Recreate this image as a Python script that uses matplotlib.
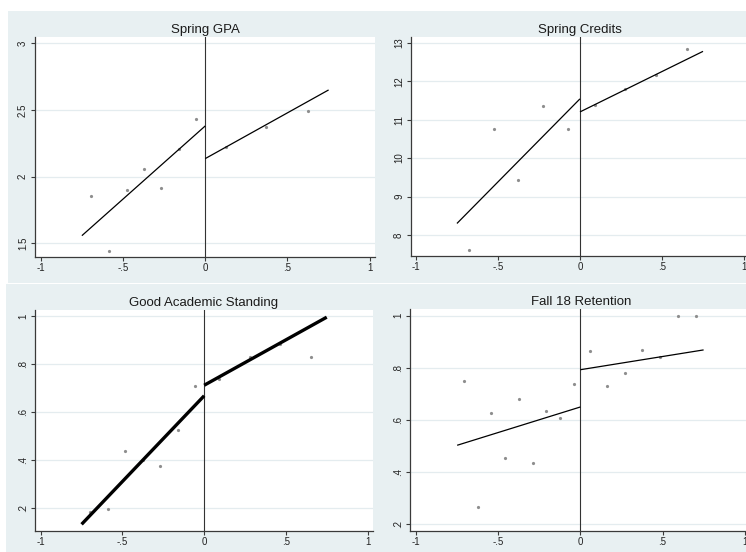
import matplotlib
matplotlib.use("Agg")
import matplotlib.pyplot as plt
from matplotlib.patches import Rectangle

plt.rcParams['font.family'] = ['Liberation Sans', 'DejaVu Sans']

# ---------------- data ----------------
titles = ["Spring GPA", "Spring Credits", "Good Academic Standing", "Fall 18 Retention"]

gpa_x = [-0.693, -0.584, -0.478, -0.373, -0.267, -0.160, -0.055, 0.128, 0.369, 0.622]
gpa_y = [1.857, 1.445, 1.897, 2.057, 1.915, 2.205, 2.435, 2.225, 2.375, 2.490]
gpa_fit_left = [1.557, 2.380]
gpa_fit_right = [2.135, 2.650]

cred_x = [-0.674, -0.523, -0.375, -0.226, -0.075, 0.094, 0.277, 0.466, 0.650]
cred_y = [7.61, 10.765, 9.42, 11.345, 10.756, 11.37, 11.80, 12.17, 12.83]
cred_fit_left = [8.30, 11.54]
cred_fit_right = [11.20, 12.775]

gas_x = [-0.701, -0.591, -0.483, -0.376, -0.269, -0.161, -0.055, 0.092, 0.279, 0.466, 0.654]
gas_y = [0.182, 0.193, 0.436, 0.400, 0.372, 0.525, 0.7095, 0.740, 0.830, 0.885, 0.832]
gas_fit_left = [0.130, 0.668]
gas_fit_right = [0.712, 0.997]

ret_x = [-0.709, -0.626, -0.543, -0.457, -0.376, -0.291, -0.207, -0.124, -0.041,
         0.057, 0.163, 0.272, 0.378, 0.486, 0.593, 0.701]
ret_y = [0.750, 0.266, 0.626, 0.453, 0.6825, 0.434, 0.634, 0.606, 0.740,
         0.863, 0.732, 0.780, 0.869, 0.841, 1.0, 1.0]
ret_fit_left = [0.503, 0.650]
ret_fit_right = [0.793, 0.869]

fit_left_x = [-0.75, 0.0]
fit_right_x = [0.0, 0.75]

x_ticks = [-1, -0.5, 0, 0.5, 1]
x_ticklabels = ["-1", "-.5", "0", ".5", "1"]
gpa_ticks = [1.5, 2, 2.5, 3]
gpa_ticklabels = ["1.5", "2", "2.5", "3"]
cred_ticks = [8, 9, 10, 11, 12, 13]
cred_ticklabels = ["8", "9", "10", "11", "12", "13"]
prop_ticks = [0.2, 0.4, 0.6, 0.8, 1.0]
prop_ticklabels = [".2", ".4", ".6", ".8", "1"]

# ---------------- layout ----------------
W, H = 746, 552
fig = plt.figure(figsize=(W / 100, H / 100), dpi=100)
fig.patch.set_facecolor("white")

BG = "#E8F0F2"
GRID = "#E4ECEF"


def rect_px(x0, y0, x1, y1, color):
    fig.patches.append(Rectangle((x0 / W, 1 - y1 / H), (x1 - x0) / W, (y1 - y0) / H,
                                 transform=fig.transFigure, facecolor=color,
                                 edgecolor="none", zorder=-10))


rect_px(8, 11, 375, 283, BG)
rect_px(375, 11, 746, 283, BG)
rect_px(6, 284, 375, 552, BG)
rect_px(375, 284, 746, 552, BG)


def axes_px(l, r, t, b):
    return fig.add_axes([l / W, 1 - b / H, (r - l) / W, (b - t) / H], zorder=5)


def style(ax, xlim, ylim, yticks, yticklabels):
    ax.set_facecolor("white")
    ax.set_xlim(*xlim)
    ax.set_ylim(*ylim)
    for s in ("top", "right"):
        ax.spines[s].set_visible(False)
    for s in ("left", "bottom"):
        ax.spines[s].set_color("#3a3a3a")
        ax.spines[s].set_linewidth(0.9)
    ax.set_xticks(x_ticks)
    ax.set_xticklabels(x_ticklabels)
    ax.set_yticks(yticks)
    ax.set_yticklabels(yticklabels, rotation=90, va="center")
    ax.tick_params(axis="both", direction="out", length=3, width=0.8,
                   color="#3a3a3a", labelsize=7, labelcolor="#222222")
    ax.tick_params(axis="x", pad=1.5)
    ax.tick_params(axis="y", pad=2)
    ax.set_axisbelow(True)
    ax.yaxis.grid(True, color=GRID, linewidth=0.9)
    ax.axvline(0, color="#333333", linewidth=0.8, zorder=2)


def draw(ax, px, py, fl, fr, lw):
    ax.plot(px, py, "o", ms=2.3, color="#8e8e8e", mec="none", zorder=3)
    ax.plot(fit_left_x, fl, color="black", linewidth=lw, zorder=4, solid_capstyle="butt")
    ax.plot(fit_right_x, fr, color="black", linewidth=lw, zorder=4, solid_capstyle="butt")


# Panel 1
ax1 = axes_px(35, 375, 37, 257)
style(ax1, (-1.035, 1.032), (1.397, 3.047), gpa_ticks, gpa_ticklabels)
draw(ax1, gpa_x, gpa_y, gpa_fit_left, gpa_fit_right, 0.9)

# Panel 2
ax2 = axes_px(411, 746, 37, 256)
style(ax2, (-1.03, 1.012), (7.454, 13.148), cred_ticks, cred_ticklabels)
draw(ax2, cred_x, cred_y, cred_fit_left, cred_fit_right, 0.9)

# Panel 3
ax3 = axes_px(35, 373, 310, 531)
style(ax3, (-1.035, 1.033), (0.102, 1.027), prop_ticks, prop_ticklabels)
draw(ax3, gas_x, gas_y, gas_fit_left, gas_fit_right, 2.4)

# Panel 4
ax4 = axes_px(410, 746, 309, 531)
style(ax4, (-1.037, 1.008), (0.174, 1.026), prop_ticks, prop_ticklabels)
draw(ax4, ret_x, ret_y, ret_fit_left, ret_fit_right, 0.9)

# Titles
title_pos = [(205, 33), (580, 33), (204, 306), (581, 305)]
for t, (tx, ty) in zip(titles, title_pos):
    fig.text(tx / W, 1 - ty / H, t, ha="center", va="baseline", fontsize=9.5,
             color="#1a1a1a")

fig.savefig("out.png", dpi=100)
